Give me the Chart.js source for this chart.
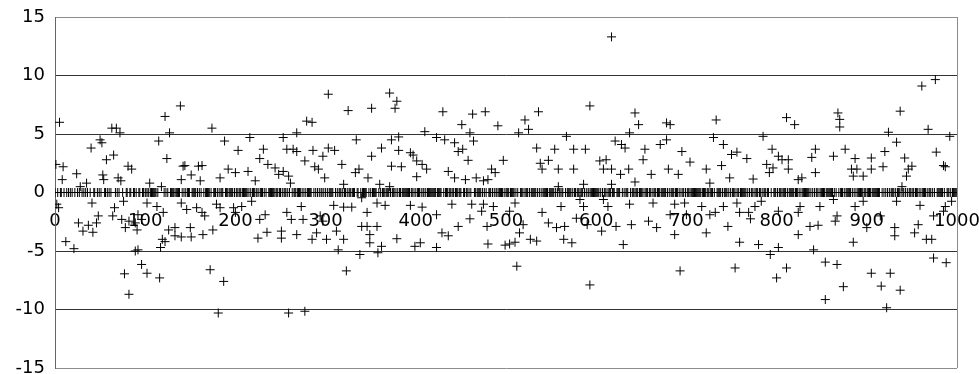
<!DOCTYPE html>
<html lang="en">
<head>
<meta charset="UTF-8">
<title>Scatter</title>
<style>
  body {
    margin: 0;
    background: #fff;
  }
</style>
<script src="https://cdn.jsdelivr.net/npm/chart.js"></script>
</head>
<body>
<canvas id="scatterChart" width="979" height="374"></canvas>

<script>
// non-zero samples (x, y in parallel)
const xValues = [
  1, 2, 4, 5, 8, 9, 12, 21, 24, 26, 28, 31, 35, 37, 40, 41, 42, 46, 48, 50,
  52, 53, 54, 57, 63, 64, 65, 66, 68, 70, 72, 73, 74, 76, 77, 78, 81, 82, 82, 85,
  89, 89, 91, 92, 92, 96, 96, 102, 102, 105, 113, 115, 116, 117, 118, 119, 120, 122, 122, 124,
  126, 127, 133, 133, 139, 140, 140, 142, 146, 150, 151, 157, 159,
  140, 144, 151, 161, 163, 163, 164, 166, 172, 174, 175, 179, 181, 183, 183, 187, 188, 192, 198, 200,
  200, 203, 207, 214, 216, 218, 222, 225, 227, 227, 231, 233, 235, 236, 244, 248, 251, 251, 253, 253,
  257, 257, 259, 259, 261, 262, 264, 268, 268, 268, 273, 275, 277, 277, 279,
  285, 285, 286, 288, 290, 292, 294, 297, 297, 299, 301, 303, 303, 309, 310, 312, 314, 318, 320, 320,
  320, 323, 325, 329, 333, 334, 337, 338, 340, 340, 346, 346, 347, 349, 349, 351, 351, 357, 357, 358,
  360, 362, 362, 366, 371, 371, 373, 373, 377, 379, 379, 381, 381, 384, 394, 394, 397, 399, 401, 401,
  405, 407, 407, 410, 412, 423, 423, 423,
  429, 430, 432, 436, 436, 440, 443, 443, 447, 447, 451, 452, 455, 458, 460, 460, 462, 463, 464, 467,
  473, 475, 475, 477, 479, 480, 480, 484, 486, 488, 491, 497, 499, 504, 504, 510, 510, 512, 514, 515,
  519, 521, 525, 527, 534, 534, 536, 538, 540, 540, 547, 547, 554, 556, 558, 558, 561, 564, 565, 567,
  573, 575, 575, 578, 582, 586, 586, 588, 590, 593, 593, 604, 606, 608, 608, 611, 613, 617, 617, 617,
  621, 622, 627, 628, 630, 632, 636, 637, 637, 639, 643, 643, 647, 652, 654, 658, 661, 663, 667, 671,
  678, 678, 680, 682, 682, 687, 687, 691, 693, 695, 698, 700, 704,
  717, 722, 722, 726, 726, 730, 732, 733, 739, 741, 741, 746, 748, 750, 754, 756, 756, 759, 759, 767,
  769, 771, 774, 776, 780, 783, 785, 789, 792, 793, 795, 796, 800, 802, 802, 802, 806, 811, 811, 813,
  813, 820, 824, 824, 824, 826, 828, 837, 839, 841, 843, 843, 846, 848, 854, 854,
  863, 863, 865, 867, 867, 868, 870, 870, 874, 876, 883, 885, 885, 887, 887, 889, 896, 896, 900, 905,
  905, 905, 915, 916, 918, 920, 922, 924, 926, 931, 931, 933, 933, 937, 937, 939, 942, 944, 946, 950,
  953, 957, 959, 961, 966, 968, 972, 974, 974, 976, 977, 985, 985, 987, 987, 988, 992, 994
];
const yValues = [
  2.4, -1.0, -1.3, 6.0, 1.1, 2.2, -4.2, -4.8, 1.6, -2.6, 0.5, -3.3, 0.8, -2.8, 3.8, -0.9, -3.4, -2.6, -2.0, 4.5,
  4.25, 1.5, 1.1, 2.8, 5.5, -2.0, 3.2, -1.3, 5.5, 1.25, 5.1, 1.0, -2.3, -0.75, -6.95, -3.0, 2.25, -2.45, -8.7, 2.0,
  -2.6, -5.0, -3.2, -1.9, -4.9, -2.3, -6.15, -0.9, -6.9, 0.8, -1.2, 4.4, -7.3, -4.7, 0.5, -4.0, -1.7, 6.5, -4.2, 2.9,
  -3.2, 5.1, -3.7, -3.0, 7.4, 1.1, -0.9, 2.25, -1.45, -3.0, 1.5, -1.3, 2.25,
  -3.8, 2.3, -3.8, 1.0, 2.3, -1.7, -3.6, -2.0, -6.6, 5.5, -3.2, -1.0, -10.3, 1.25, -1.3, -7.6, 4.4, 2.0, -1.3, 1.7,
  -1.7, 3.6, -1.2, 1.8, 4.7, -0.75, 1.0, -3.9, 2.9, -2.3, 3.7, -1.9, -3.4, 2.4, 2.1, 1.55, -3.3, -3.9, 4.7, 1.8,
  3.7, -1.7, 1.4, -10.3, 0.8, -2.3, 3.7, 5.1, 3.5, -3.6, -1.2, -2.3, 2.7, -10.15, 6.1,
  6.0, -4.0, 3.6, 2.2, -3.45, 2.0, -2.0, 3.1, -2.45, 1.25, -4.0, 8.4, 3.8, -1.1, 3.6, -3.3, -4.9, 2.4, 0.7, -1.25,
  -4.0, -6.7, 7.0, -1.25, 1.7, 4.5, 2.0, -5.3, -0.45, -2.9, -1.7, -2.9, 1.25, -3.6, -4.3, 7.2, 3.1, -0.9, -2.9, -5.15,
  0.7, 3.8, -4.6, -1.1, 8.5, 0.5, 4.5, 2.25, 7.2, 7.8, -3.95, 4.75, 3.6, 2.2, 3.4, -1.1, 3.2, -4.6, 2.7, 1.35,
  -4.3, 2.4, -1.25, 5.2, 2.0, 4.7, -4.7, -1.9,
  -3.45, 6.9, 4.5, 1.8, -3.7, -1.0, 4.25, 1.25, 3.5, -2.9, 5.8, 3.7, 1.1, 2.75, 5.1, -2.25, -1.0, 6.7, 4.4, 1.25,
  -1.6, 1.0, -1.0, 6.9, -2.9, 1.1, -4.4, 2.0, -1.2, 1.7, 5.7, 2.75, -4.5, -1.6, -4.4, -0.9, -4.25, -6.3, 5.1, -3.45,
  -2.75, 6.2, 5.4, -4.0, 3.8, -4.15, 6.9, 2.5, 2.0, -1.7, 2.75, -2.6, 3.7, -3.0, 2.0, 0.5, -1.2, -4.0, -2.9, 4.8,
  -4.3, 3.7, 2.0, -2.2, -0.6, 0.7, -1.2, 3.7, -2.75, 7.4, -7.9, 2.7, -3.3, 2.0, -0.6, 2.8, -1.2, 13.3, 2.0, 0.7,
  4.4, -2.9, 1.55, 4.1, -4.45, 3.8, 2.0, 5.1, -1.0, -2.75, 6.8, 0.9, 5.8, 2.8, 3.7, -2.45, 1.55, -0.9, -3.0, 4.1,
  5.95, 4.5, 2.0, 5.8, -1.9, -1.0, -3.6, 1.55, -6.7, 3.5, -0.9, -1.9, 2.6,
  -1.2, 2.0, -3.45, 0.8, -1.9, 4.7, -1.7, 6.2, 2.3, 4.1, -1.2, -2.9, 1.25, 3.25, -6.45, 3.45, -0.9, -1.7, -4.25, 2.9,
  -1.7, -2.25, 1.15, -1.2, -4.45, -0.75, 4.8, 2.4, 1.7, -5.3, 3.7, 2.1, -7.3, 3.1, -1.6, -4.7, 2.8, 6.4, -6.45, 2.8,
  2.0, 5.8, 1.1, -1.7, -3.6, -1.2, 1.25, -2.9, 3.0, -4.9, 3.7, 1.7, -2.8, -1.2, -5.95, -9.15,
  3.1, -0.6, -2.45, -2.0, -6.15, 6.8, 6.25, 5.6, -8.05, 3.7, 2.0, 1.4, -4.25, 2.9, -1.2, 2.0, 1.4, -0.75, -3.0, 2.95,
  2.0, -6.9, -2.0, -8.0, 2.2, 3.5, -9.85, 5.15, -6.9, -3.0, -3.7, 4.3, -0.75, 6.95, -8.35, 0.5, 2.95, 1.4, 2.0, 2.25,
  -3.45, -2.75, -1.1, 9.1, -4.0, 5.4, -4.0, -2.0, -5.6, 9.65, 3.45, 2.3, -1.6, 2.2, -1.2, -6.0, 4.8, -0.75
];
// samples sitting exactly on 0 (the dense band)
const zeroX = [
  0, 3, 6, 7, 10, 13, 15, 17, 19, 22, 25, 27, 30, 32, 34, 36, 39, 43, 44, 47, 49, 51, 55, 56, 58, 60, 62, 67, 69, 71,
  75, 79, 80, 83, 84, 87, 88, 90, 93, 94, 97, 98, 100, 101, 103, 104, 106, 107, 108, 109, 110, 111, 112, 114, 121, 123, 125, 128, 129, 130,
  131, 132, 134, 135, 136, 137, 138, 141, 143, 145, 147, 148, 149, 152, 153, 154, 155, 156, 158, 160, 162, 165, 167, 168, 169, 170, 171, 173, 176, 177,
  178, 180, 182, 184, 185, 186, 189, 190, 191, 193, 194, 195, 196, 197, 199, 201, 202, 204, 205, 206, 208, 209, 210, 211, 212, 213, 215, 217, 219, 220,
  221, 223, 224, 226, 228, 229, 230, 232, 234, 237, 238, 239, 240, 241, 242, 243, 245, 246, 247, 249, 250, 252, 254, 255, 256, 258, 260, 263, 265, 266,
  267, 269, 270, 271, 272, 274, 276, 278, 280, 281, 282, 283, 284, 287, 289, 291, 293, 295, 296, 298, 300, 302, 304, 305, 306, 307, 308, 311, 313, 315,
  316, 317, 319, 321, 322, 324, 326, 327, 328, 330, 331, 332, 335, 336, 339, 341, 342, 343, 344, 345, 348, 350, 352, 353, 354, 355, 356, 359, 361, 363,
  364, 365, 367, 368, 369, 370, 372, 374, 375, 376, 378, 380, 382, 383, 385, 386, 387, 388, 389, 390, 391, 392, 393, 395, 396, 398, 400, 402, 403, 404,
  406, 408, 409, 411, 413, 414, 415, 416, 417, 418, 419, 420, 421, 422, 424, 425, 426, 427, 428, 431, 433, 434, 435, 437, 438, 439, 441, 442, 444, 445,
  446, 448, 449, 450, 453, 454, 456, 457, 459, 461, 465, 466, 468, 469, 470, 471, 472, 474, 476, 478, 481, 482, 483, 485, 487, 489, 490, 492, 493, 494,
  495, 496, 498, 500, 501, 502, 503, 505, 506, 507, 508, 509, 511, 513, 516, 517, 518, 520, 522, 523, 524, 526, 528, 529, 530, 531, 532, 533, 535, 537,
  539, 541, 542, 543, 544, 545, 546, 548, 549, 550, 551, 552, 553, 555, 557, 559, 560, 562, 563, 566, 568, 569, 570, 571, 572, 574, 576, 577, 579, 580,
  581, 583, 584, 585, 587, 589, 591, 592, 594, 595, 596, 597, 598, 599, 600, 601, 602, 603, 605, 607, 609, 610, 612, 614, 615, 616, 618, 619, 620, 623,
  624, 625, 626, 629, 631, 633, 634, 635, 638, 640, 641, 642, 644, 645, 646, 648, 649, 650, 651, 653, 655, 656, 657, 659, 660, 662, 664, 665, 666, 668,
  669, 670, 672, 673, 674, 675, 676, 677, 679, 681, 683, 684, 685, 686, 688, 689, 690, 692, 694, 696, 697, 699, 701, 702, 703, 705, 706, 707, 708, 709,
  710, 711, 712, 713, 714, 715, 716, 718, 719, 720, 721, 723, 724, 725, 727, 728, 729, 731, 734, 735, 736, 737, 738, 740, 742, 743, 744, 745, 747, 749,
  751, 752, 753, 755, 757, 758, 760, 761, 762, 763, 764, 765, 766, 768, 770, 772, 773, 775, 777, 778, 779, 781, 782, 784, 786, 787, 788, 790, 791, 794,
  797, 798, 799, 801, 803, 804, 805, 807, 808, 809, 810, 812, 814, 815, 816, 817, 818, 819, 821, 822, 823, 825, 827, 829, 830, 831, 832, 833, 834, 835,
  836, 838, 840, 842, 844, 845, 847, 849, 850, 851, 852, 853, 855, 856, 857, 858, 859, 860, 861, 862, 864, 866, 869, 871, 872, 873, 875, 877, 878, 879,
  880, 881, 882, 884, 886, 888, 890, 891, 892, 893, 894, 895, 897, 898, 899, 901, 902, 903, 904, 906, 907, 908, 909, 910, 911, 912, 913, 914, 917, 919,
  921, 923, 925, 927, 928, 929, 930, 932, 934, 935, 936, 938, 940, 941, 943, 945, 947, 948, 949, 951, 952, 954, 955, 956, 958, 960, 962, 963, 964, 965,
  967, 969, 970, 971, 973, 975, 978, 979, 980, 981, 982, 983, 984, 986, 989, 990, 991, 993, 995, 996, 997, 998, 999, 1000
];
const xTicks = [0, 100, 200, 300, 400, 500, 600, 700, 800, 900, 1000];
const yTicks = [-15, -10, -5, 0, 5, 10, 15];

const points = xValues.map((x, i) => ({x: x, y: yValues[i]}))
  .concat(zeroX.map(x => ({x: x, y: 0})));

// gray frame on the right side of the plot
const frameRight = {
  id: 'frameRight',
  beforeDatasetsDraw(chart) {
    const a = chart.chartArea;
    const ctx = chart.ctx;
    ctx.save();
    ctx.strokeStyle = '#8c8c8c';
    ctx.lineWidth = 1;
    ctx.beginPath();
    ctx.moveTo(a.right + 0.5, a.top);
    ctx.lineTo(a.right + 0.5, a.bottom);
    ctx.stroke();
    ctx.restore();
  }
};

const tickFont = {family: 'DejaVu Sans', size: 18};

new Chart(document.getElementById('scatterChart').getContext('2d'), {
  type: 'scatter',
  data: {
    datasets: [{
      data: points,
      pointStyle: 'cross',
      pointRadius: 4.5,
      pointHoverRadius: 4.5,
      borderWidth: 1,
      borderColor: '#000',
      backgroundColor: '#000'
    }]
  },
  options: {
    responsive: false,
    animation: false,
    events: [],
    layout: { padding: {left: 0, right: 22, top: 17, bottom: 6} },
    plugins: { legend: {display: false}, tooltip: {enabled: false} },
    scales: {
      x: {
        type: 'linear',
        position: {y: 0},
        min: 0,
        max: 1000,
        afterBuildTicks: s => { s.ticks = xTicks.map(v => ({value: v})); },
        afterFit: s => { s.paddingLeft = 0; s.paddingRight = 0; },
        ticks: {
          color: '#000', font: tickFont, padding: 18, maxRotation: 0, autoSkip: false,
          callback: v => String(v)
        },
        grid: { display: false, drawTicks: false, tickLength: 0 },
        border: { display: true, color: '#000', width: 1 }
      },
      y: {
        min: -15,
        max: 15,
        afterBuildTicks: s => { s.ticks = yTicks.map(v => ({value: v})); },
        afterFit: s => { s.width = 55; s.paddingTop = 0; s.paddingBottom = 0; },
        ticks: { color: '#000', font: tickFont, padding: 10, callback: v => String(v) },
        grid: {
          drawTicks: false,
          color: c => (Math.abs(c.tick.value) === 15 ? '#8c8c8c' : '#333'),
          lineWidth: 1
        },
        border: { display: true, color: '#666', width: 1 }
      }
    }
  },
  plugins: [frameRight]
});
</script>
</body>
</html>
